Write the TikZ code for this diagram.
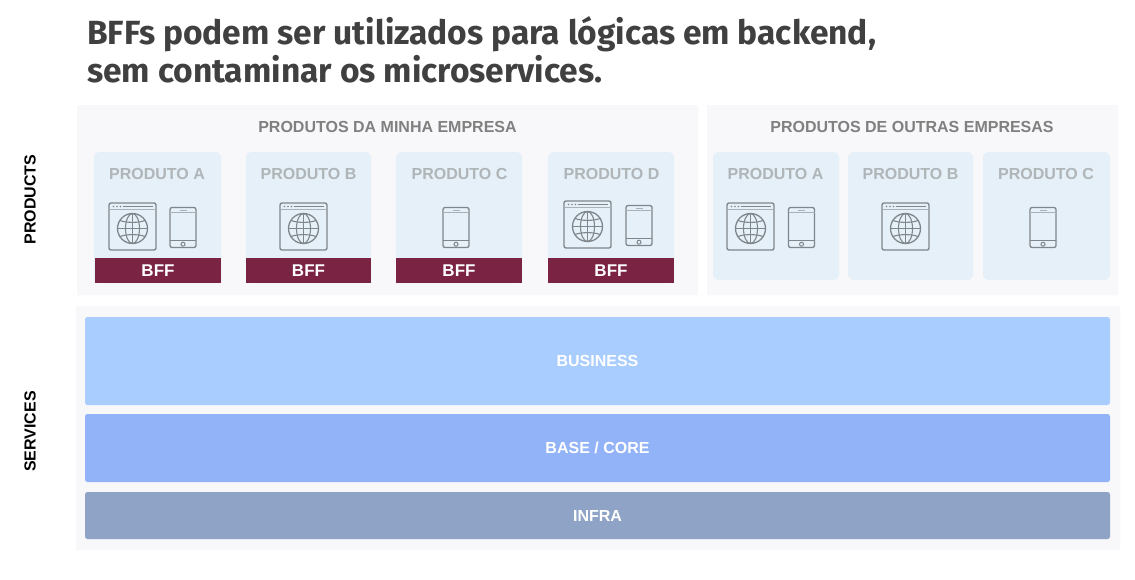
\documentclass[tikz,border=0pt]{standalone}
\usepackage{fontspec}
\setmainfont{Liberation Sans}
\newfontfamily\titlefont{Fira Sans}

\definecolor{panelgray}{HTML}{F8F7F9}
\definecolor{cardblue}{HTML}{E5F0F8}
\definecolor{bffred}{HTML}{7A2343}
\definecolor{businessblue}{HTML}{A9CDFF}
\definecolor{baseblue}{HTML}{93B3F8}
\definecolor{infrablue}{HTML}{8EA3C5}
\definecolor{headgray}{HTML}{808080}
\definecolor{cardgray}{HTML}{B0B5B8}
\definecolor{icongray}{HTML}{80878C}

\tikzset{
  panelbox/.style={fill=panelgray, rounded corners=1pt},
  cardbox/.style={fill=cardblue, rounded corners=5pt},
  bffbox/.style={fill=bffred},
  barbox/.style={rounded corners=2.5pt},
  headlabel/.style={text=headgray, font=\fontsize{16}{18}\selectfont\bfseries},
  cardlabel/.style={text=cardgray, font=\fontsize{16}{18}\selectfont\bfseries},
  whitelabel/.style={text=white, font=\fontsize{16}{18}\selectfont\bfseries},
  bfflabel/.style={text=white, font=\fontsize{17}{18}\selectfont\bfseries},
  sidelabel/.style={text=black, rotate=90, font=\fontsize{16}{18}\selectfont\bfseries},
  browser/.pic={
    \draw[icongray, line width=1.4pt, rounded corners=2pt] (-23.5,-23.5) rectangle (23.5,23.5);
    \draw[icongray!60!cardblue, line width=0.8pt] (-23.5,-17) -- (23.5,-17);
    \draw[icongray, line width=1.3pt] (-10,-20) -- (20,-20);
    \fill[icongray] (-19,-20) circle (0.9) (-15.5,-20) circle (0.9) (-12,-20) circle (0.9);
    \draw[icongray, line width=1.3pt] (0,2) circle (15);
    \draw[icongray, line width=1.1pt] (0,2) ellipse (7 and 15);
    \draw[icongray, line width=1.1pt] (0,-13) -- (0,17) (-15,2) -- (15,2);
    \draw[icongray, line width=1.1pt] (-12.5,-6) .. controls (-6,-3.5) and (6,-3.5) .. (12.5,-6);
    \draw[icongray, line width=1.1pt] (-12.5,10) .. controls (-6,7.5) and (6,7.5) .. (12.5,10);
  },
  phone/.pic={
    \draw[icongray, line width=1.3pt, rounded corners=2pt] (-13,-20) rectangle (13,20);
    \draw[icongray!60!cardblue, line width=0.8pt] (-13,-15) -- (13,-15);
    \draw[icongray, line width=1pt] (-13,13) -- (13,13);
    \draw[icongray!60!cardblue, line width=0.8pt] (-3.5,-17.5) -- (3.5,-17.5);
    \draw[icongray, line width=1pt] (0,16.7) circle (2);
  }
}

\begin{document}
\begin{tikzpicture}[x=1pt, y=-1pt]
\useasboundingbox[fill=white] (0,0) rectangle (1135,579);

% title
\node[anchor=north west, inner sep=0, align=left, text=black!75, font=\titlefont\fontsize{33.5}{38}\selectfont\bfseries] (title) at (87,16)
  {BFFs podem ser utilizados para lógicas em backend,\\sem contaminar os microservices.};

% panels
\fill[panelbox] (77,105) rectangle (698,295);
\fill[panelbox] (707,105) rectangle (1118,295);
\fill[panelbox] (76,306) rectangle (1120,550);
\node[headlabel] (mine) at (387.5,127) {PRODUTOS DA MINHA EMPRESA};
\node[headlabel] (others) at (912,127) {PRODUTOS DE OUTRAS EMPRESAS};

% my products
\fill[cardbox] (94,152) rectangle (221,283);
\fill[cardbox] (246,152) rectangle (371,283);
\fill[cardbox] (396,152) rectangle (522,283);
\fill[cardbox] (548,152) rectangle (674,283);
\node[cardlabel] (pa) at (157,174) {PRODUTO A};
\node[cardlabel] (pb) at (308.5,174) {PRODUTO B};
\node[cardlabel] (pc) at (459.5,174) {PRODUTO C};
\node[cardlabel] (pd) at (611.5,174) {PRODUTO D};
\pic at (132.5,226.5) {browser};
\pic at (183,227.5) {phone};
\pic at (303.5,226.5) {browser};
\pic at (456,227.5) {phone};
\pic at (587.5,224.5) {browser};
\pic at (639,225.5) {phone};
\fill[bffbox] (95,258) rectangle (221,283);
\fill[bffbox] (246,258) rectangle (371,283);
\fill[bffbox] (396,258) rectangle (522,283);
\fill[bffbox] (548,258) rectangle (674,283);
\node[bfflabel] (bffa) at (158,271) {BFF};
\node[bfflabel] (bffb) at (308.5,271) {BFF};
\node[bfflabel] (bffc) at (459,271) {BFF};
\node[bfflabel] (bffd) at (611,271) {BFF};

% other products
\fill[cardbox] (713,152) rectangle (839,280);
\fill[cardbox] (848,152) rectangle (973,280);
\fill[cardbox] (983,152) rectangle (1110,280);
\node[cardlabel] (oa) at (775.5,174) {PRODUTO A};
\node[cardlabel] (ob) at (910.5,174) {PRODUTO B};
\node[cardlabel] (oc) at (1046,174) {PRODUTO C};
\pic at (750.5,226.5) {browser};
\pic at (801.5,227.5) {phone};
\pic at (905.5,226.5) {browser};
\pic at (1043,227.5) {phone};

% services
\fill[barbox, businessblue] (85,317) rectangle (1110,405);
\fill[barbox, baseblue] (85,414) rectangle (1110,482);
\fill[barbox, infrablue] (85,492) rectangle (1110,539);
\node[whitelabel] (business) at (597.5,361) {BUSINESS};
\node[whitelabel] (base) at (597.5,448) {BASE / CORE};
\node[whitelabel] (infra) at (597.5,516) {INFRA};

\node[sidelabel] (products) at (30,199.5) {PRODUCTS};
\node[sidelabel] (services) at (30,431.5) {SERVICES};
\end{tikzpicture}
\end{document}
